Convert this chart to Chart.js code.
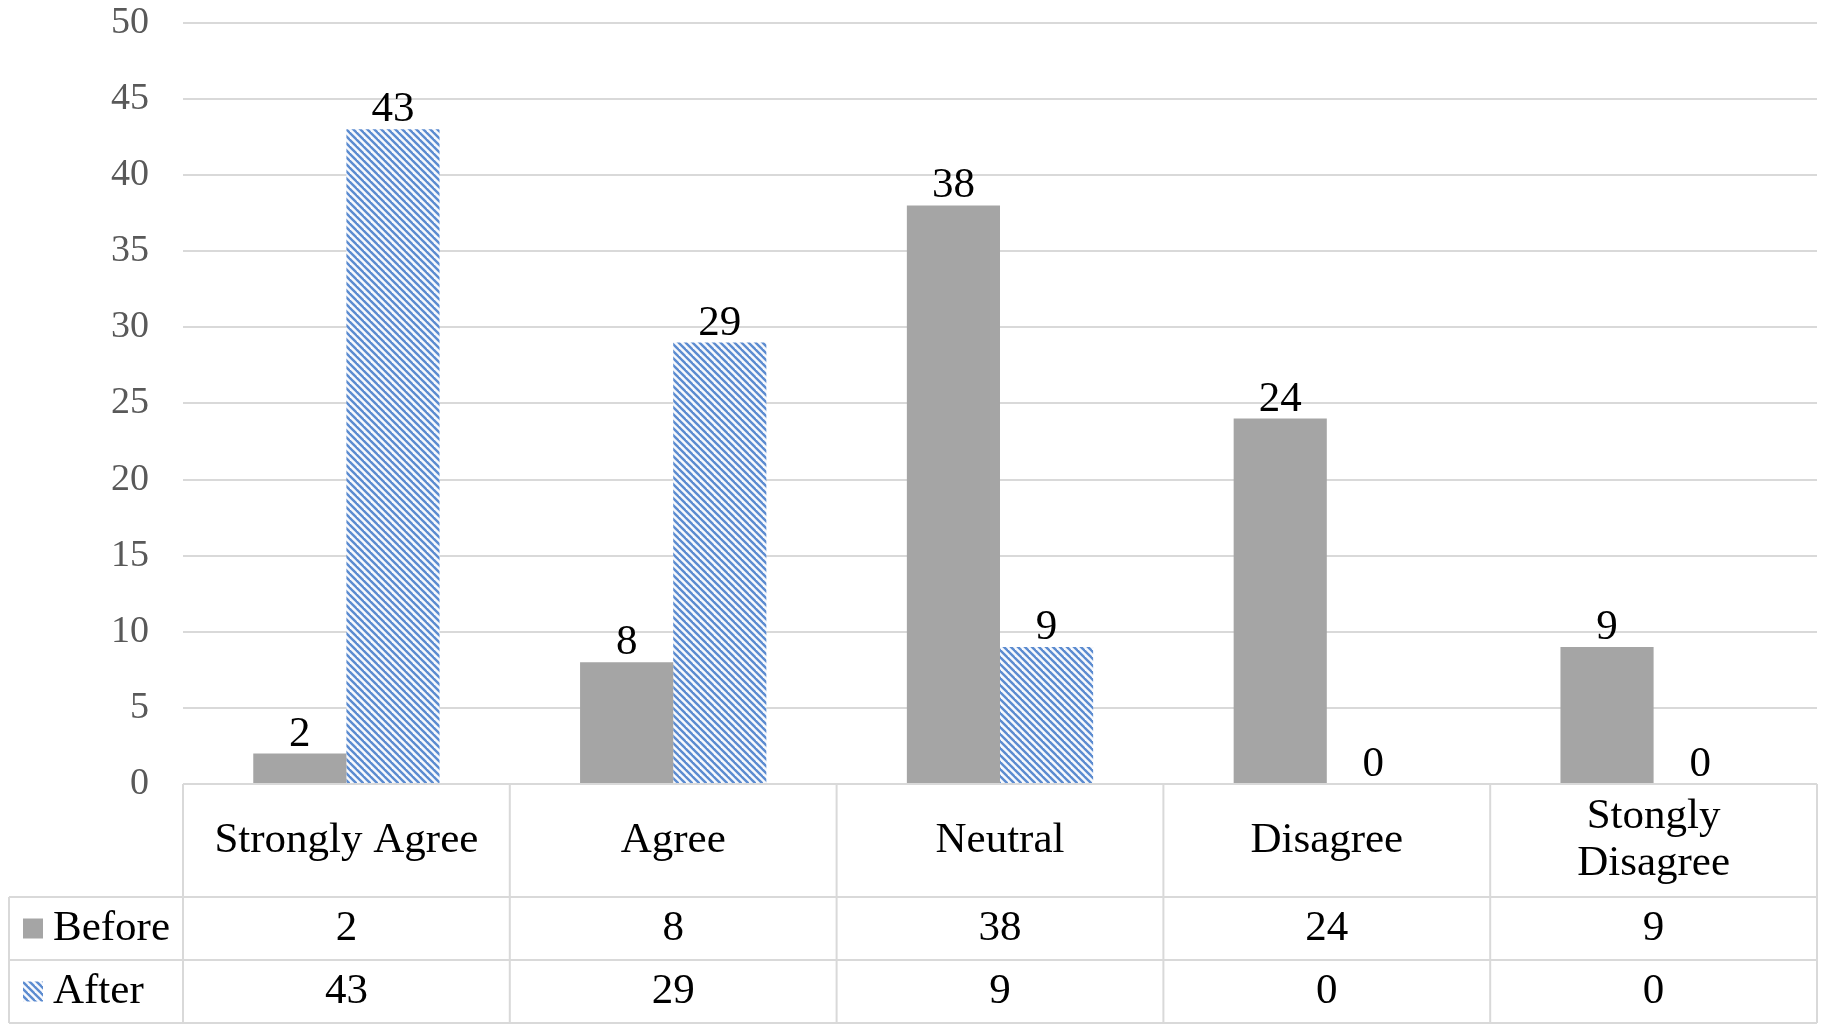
<!DOCTYPE html>
<html>
<head>
<meta charset="utf-8">
<script src="https://cdn.jsdelivr.net/npm/chart.js@4.4.1/dist/chart.umd.min.js"></script>
<style>
  html, body { margin: 0; padding: 0; background: #ffffff; }
  #wrap { width: 1824px; height: 1030px; }
</style>
</head>
<body>
<div id="wrap"><canvas id="c" width="1824" height="1030"></canvas></div>
<script>
const categories = ["Strongly Agree", "Agree", "Neutral", "Disagree", ["Stongly", "Disagree"]];
const seriesNames = ["Before", "After"];
const beforeValues = [2, 8, 38, 24, 9];
const afterValues = [43, 29, 9, 0, 0];
const yMin = 0;
const yMax = 50;
const yStep = 5;

const FONT = "'Liberation Serif', 'Times New Roman', serif";
const GRID = "#d9d9d9";
const GRAY = "#a5a5a5";
const BLUE = "#5b8bd0";

function makeHatch() {
  const s = 7;
  const c = document.createElement("canvas");
  c.width = s; c.height = s;
  const g = c.getContext("2d");
  g.fillStyle = "#f7f9fd";
  g.fillRect(0, 0, s, s);
  g.strokeStyle = BLUE;
  g.lineWidth = 2.4;
  for (const k of [-s, 0, s]) {
    g.beginPath();
    g.moveTo(k - 1, -1);
    g.lineTo(k + s + 1, s + 1);
    g.stroke();
  }
  return g.createPattern(c, "repeat");
}
const hatch = makeHatch();

const tablePlugin = {
  id: "dataTable",
  afterDraw(chart) {
    const ctx = chart.ctx;
    const xs = chart.scales.x;
    const area = chart.chartArea;
    const n = categories.length;
    const colW = (area.right - area.left) / n;
    const top = area.bottom;
    const catH = 113, rowH = 63;
    const r1 = top + catH, r2 = r1 + rowH, r3 = r2 + rowH;
    const legendLeft = 9;

    ctx.save();
    ctx.strokeStyle = GRID;
    ctx.lineWidth = 2;
    ctx.beginPath();
    ctx.moveTo(area.left, top); ctx.lineTo(area.right, top);
    ctx.moveTo(legendLeft, r1); ctx.lineTo(area.right, r1);
    ctx.moveTo(legendLeft, r2); ctx.lineTo(area.right, r2);
    ctx.moveTo(legendLeft, r3); ctx.lineTo(area.right, r3);
    ctx.moveTo(legendLeft, r1); ctx.lineTo(legendLeft, r3);
    for (let i = 0; i <= n; i++) {
      const x = area.left + i * colW;
      ctx.moveTo(x, top); ctx.lineTo(x, r3);
    }
    ctx.stroke();

    ctx.fillStyle = "#000000";
    ctx.font = "43px " + FONT;
    ctx.textAlign = "center";
    ctx.textBaseline = "middle";
    categories.forEach((lab, i) => {
      const cx = xs.getPixelForValue(i);
      const lines = Array.isArray(lab) ? lab : [lab];
      const lh = 47;
      const y0 = (top + r1) / 2 - (lines.length - 1) * lh / 2;
      lines.forEach((l, j) => ctx.fillText(l, cx, y0 + j * lh));
      ctx.fillText(String(beforeValues[i]), cx, (r1 + r2) / 2);
      ctx.fillText(String(afterValues[i]), cx, (r2 + r3) / 2);
    });

    ctx.fillStyle = GRAY;
    ctx.fillRect(23, (r1 + r2) / 2 - 10, 20, 20);
    ctx.fillStyle = hatch;
    ctx.fillRect(23, (r2 + r3) / 2 - 10, 20, 20);
    ctx.fillStyle = "#000000";
    ctx.textAlign = "left";
    ctx.fillText(seriesNames[0], 53, (r1 + r2) / 2);
    ctx.fillText(seriesNames[1], 53, (r2 + r3) / 2);

    ctx.font = "43px " + FONT;
    ctx.textAlign = "center";
    ctx.textBaseline = "alphabetic";
    chart.data.datasets.forEach((ds, di) => {
      const meta = chart.getDatasetMeta(di);
      meta.data.forEach((bar, i) => {
        ctx.fillText(String(ds.data[i]), bar.x, bar.y - 8);
      });
    });
    ctx.restore();
  }
};

new Chart(document.getElementById("c"), {
  type: "bar",
  data: {
    labels: categories,
    datasets: [
      { label: seriesNames[0], data: beforeValues, backgroundColor: GRAY, borderWidth: 0 },
      { label: seriesNames[1], data: afterValues, backgroundColor: hatch, borderWidth: 0 }
    ]
  },
  options: {
    responsive: false,
    animation: false,
    devicePixelRatio: 1,
    layout: { padding: { top: 22, right: 7, bottom: 246, left: 0 } },
    categoryPercentage: 0.57,
    barPercentage: 1.0,
    plugins: { legend: { display: false }, tooltip: { enabled: false } },
    scales: {
      x: { display: false },
      y: {
        min: yMin, max: yMax,
        ticks: { stepSize: yStep, padding: 0, color: "#595959", font: { family: FONT, size: 38 } },
        grid: { color: GRID, lineWidth: 2, drawTicks: true, tickLength: 34, tickColor: "rgba(0,0,0,0)" },
        border: { display: false },
        afterFit(scale) { scale.width = 183; }
      }
    }
  },
  plugins: [tablePlugin]
});
</script>
</body>
</html>
